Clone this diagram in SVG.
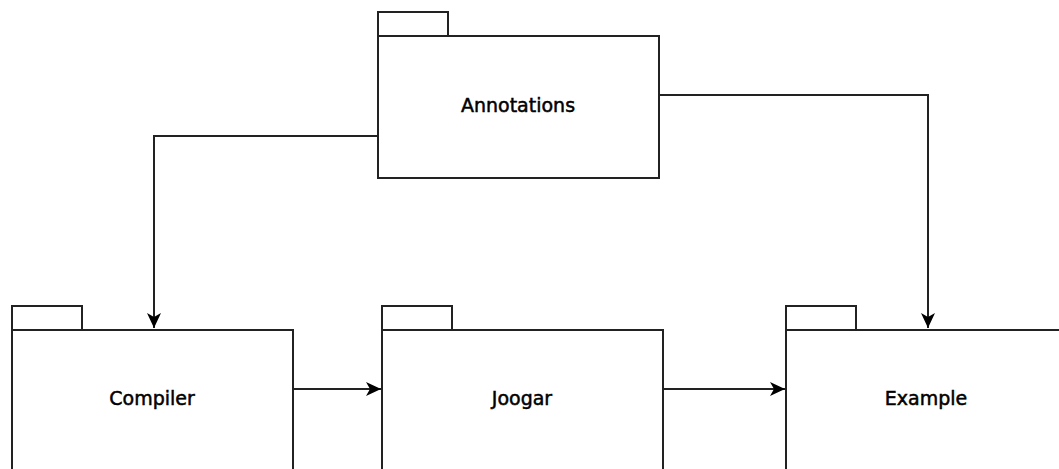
<svg xmlns="http://www.w3.org/2000/svg" width="1059" height="469" viewBox="0 0 1059 469">
  <style>
    .pkg { fill: #ffffff; stroke: #222222; stroke-width: 2; }
    .label { font-family: "DejaVu Sans", sans-serif; font-size: 19px; fill: #000000; stroke: #000000; stroke-width: 0.5; text-anchor: middle; dominant-baseline: central; }
    .edge { fill: none; stroke: #222222; stroke-width: 2; }
  </style>
  <defs>
    <marker id="arrow" viewBox="0 0 15 14" refX="15" refY="7" markerWidth="15" markerHeight="14" markerUnits="userSpaceOnUse" orient="auto">
      <path d="M0,0 L15,7 L0,14 L4,7 Z" fill="#000000"/>
    </marker>
  </defs>
  <rect width="1059" height="469" fill="#ffffff"/>

  <g id="annotations">
    <rect class="pkg" x="378" y="12" width="70" height="24"/>
    <rect class="pkg" x="378" y="36" width="281" height="142"/>
    <text class="label" x="518" y="105">Annotations</text>
  </g>

  <g id="compiler">
    <rect class="pkg" x="12" y="306" width="70" height="24"/>
    <rect class="pkg" x="12" y="330" width="281" height="142"/>
    <text class="label" x="152" y="398">Compiler</text>
  </g>

  <g id="joogar">
    <rect class="pkg" x="382" y="306" width="70" height="24"/>
    <rect class="pkg" x="382" y="330" width="281" height="142"/>
    <text class="label" x="522" y="398">Joogar</text>
  </g>

  <g id="example">
    <rect class="pkg" x="786" y="306" width="70" height="24"/>
    <rect class="pkg" x="786" y="330" width="281" height="142"/>
    <text class="label" x="926" y="398">Example</text>
  </g>

  <g id="connectors">
    <path class="edge" d="M378,136 H154 V328" marker-end="url(#arrow)"/>
    <path class="edge" d="M659,95 H928 V328" marker-end="url(#arrow)"/>
    <path class="edge" d="M293,389 H381" marker-end="url(#arrow)"/>
    <path class="edge" d="M663,389 H785" marker-end="url(#arrow)"/>
  </g>
</svg>
